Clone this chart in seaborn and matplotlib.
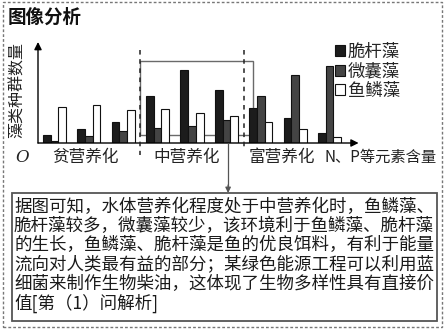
import numpy as np
import pandas as pd
import matplotlib
matplotlib.use("Agg")
import matplotlib.pyplot as plt
import matplotlib.transforms as mtransforms
from matplotlib.patches import Rectangle
from matplotlib.lines import Line2D
import seaborn as sns

# ---------------- data ----------------
levels = ["1", "2", "3", "4", "5", "6", "7", "8", "9"]
species = ["脆杆藻", "微囊藻", "鱼鳞藻"]
cuigan = [8, 14, 21, 47, 73, 53, 35, 25, 10]
weinang = [2.5, 7, 12, 15, 17, 23, 47, 68, 77]
yulin = [36, 38, 33, 34, 30, 27, 21, 14, 6]
region_labels = ["贫营养化", "中营养化", "富营养化"]
region_centers = [0.89, 3.83, 6.6]
x_axis_label = "N、P等元素含量"
y_axis_label = "藻类种群数量"
title = "图像分析"
notes = [
    "据图可知，水体营养化程度处于中营养化时，鱼鳞藻、",
    "脆杆藻较多，微囊藻较少，该环境利于鱼鳞藻、脆杆藻",
    "的生长，鱼鳞藻、脆杆藻是鱼的优良饵料，有利于能量",
    "流向对人类最有益的部分；某绿色能源工程可以利用蓝",
    "细菌来制作生物柴油，这体现了生物多样性具有直接价",
    "值[第（1）问解析]",
]

df = pd.DataFrame({
    "level": levels * 3,
    "species": np.repeat(species, len(levels)),
    "count": cuigan + weinang + yulin,
})

# ---------------- style ----------------
sns.set_theme(style="white")
plt.rcParams["font.family"] = ["Noto Sans CJK SC", "DejaVu Sans"]

W, H = 445, 329
fig = plt.figure(figsize=(W / 100, H / 100), dpi=100)
fig.patch.set_facecolor("white")


def fx(px):
    return px / W


def fy(py):
    return 1 - py / H


ax = fig.add_axes([fx(38), fy(143), (357 - 38) / W, (143 - 42) / H])
ax.set_facecolor("none")
sns.barplot(data=df, x="level", y="count", hue="species", hue_order=species,
            palette=["#1c1c1c", "#444444", "#ffffff"], saturation=1,
            width=0.67, edgecolor="#111111", linewidth=0.8, errorbar=None,
            ax=ax, legend=True)
ax.set_xlim(-0.48, 8.8)
ax.set_ylim(0, 101)
for s in ax.spines.values():
    s.set_visible(False)
ax.set_xticks([])
ax.set_yticks([])
ax.set_xlabel("")
ax.set_ylabel("")

# axes arrows
ax.annotate("", xy=(1.005, 0), xytext=(0, 0), xycoords="axes fraction",
            arrowprops=dict(arrowstyle="-|>", color="black", lw=1.0,
                            mutation_scale=11, shrinkA=0, shrinkB=0),
            annotation_clip=False)
ax.annotate("", xy=(0, 1.0), xytext=(0, 0), xycoords="axes fraction",
            arrowprops=dict(arrowstyle="-|>", color="black", lw=1.0,
                            mutation_scale=11, shrinkA=0, shrinkB=0),
            annotation_clip=False)

blend = mtransforms.blended_transform_factory(ax.transData, fig.transFigure)

# highlight rectangle (behind bars)
ax.add_patch(Rectangle((2.5, 8), 3.27, 74, fill=False, ec="#6a6a6a",
                       lw=1.0, zorder=0.5))

# dashed separators
for xv, ybot in [(2.5, 155), (5.5, 150)]:
    fig.add_artist(Line2D([xv, xv], [fy(50), fy(ybot)], transform=blend,
                          ls=(0, (3, 3)), color="#222222", lw=1.1))

# region labels
for lab, xc in zip(region_labels, region_centers):
    ax.text(xc, fy(157), lab, transform=blend, ha="center", va="center",
            fontsize=12, color="#222222", clip_on=False)
fig.text(fx(325), fy(157), x_axis_label, ha="left", va="center",
         fontsize=11, color="#222222")
fig.text(fx(22), fy(157), "O", family="DejaVu Serif", style="italic",
         fontsize=12, ha="center", va="center", color="#222222")

# y label
fig.text(fx(17), fy(90), y_axis_label, rotation=90, ha="center", va="center",
         fontsize=11.5, color="#222222")

# title
fig.text(fx(8), fy(17), title, ha="left", va="center", fontsize=13.3,
         fontweight="bold", color="#111111")

# legend
handles, labels = ax.get_legend_handles_labels()
ax.legend(handles, labels, loc="upper left", bbox_to_anchor=(fx(335), fy(43)),
          bbox_transform=fig.transFigure, frameon=False, fontsize=12.5,
          handlelength=0.6, handleheight=0.6, handletextpad=0.15,
          labelspacing=0.08, borderpad=0, borderaxespad=0)

# connector arrow to text box
fig.add_artist(Line2D([5.05, 5.05], [fy(143), fy(186)], transform=blend,
                      color="#555555", lw=0.9))
ax.annotate("", xy=(5.05, fy(193)), xytext=(5.05, fy(185)),
            xycoords=blend, textcoords=blend,
            arrowprops=dict(arrowstyle="-|>", color="#555555", lw=0.9,
                            mutation_scale=8, shrinkA=0, shrinkB=0),
            annotation_clip=False)

# text box
fig.add_artist(Rectangle((fx(12), fy(321)), (437 - 12) / W, (321 - 193) / H,
                         transform=fig.transFigure, fill=False, ec="#555555",
                         lw=1.3))
for i, line in enumerate(notes):
    fig.text(fx(14), fy(207 + i * 19.2), line, ha="left", va="center",
             fontsize=12.6, color="#1a1a1a")

# outer dashed border
fig.add_artist(Rectangle((fx(3), fy(327)), (442 - 3) / W, (327 - 2) / H,
                         transform=fig.transFigure, fill=False, ec="#777777",
                         lw=1.0, ls=(0, (2, 1.5))))

fig.savefig("out.png", dpi=100)
